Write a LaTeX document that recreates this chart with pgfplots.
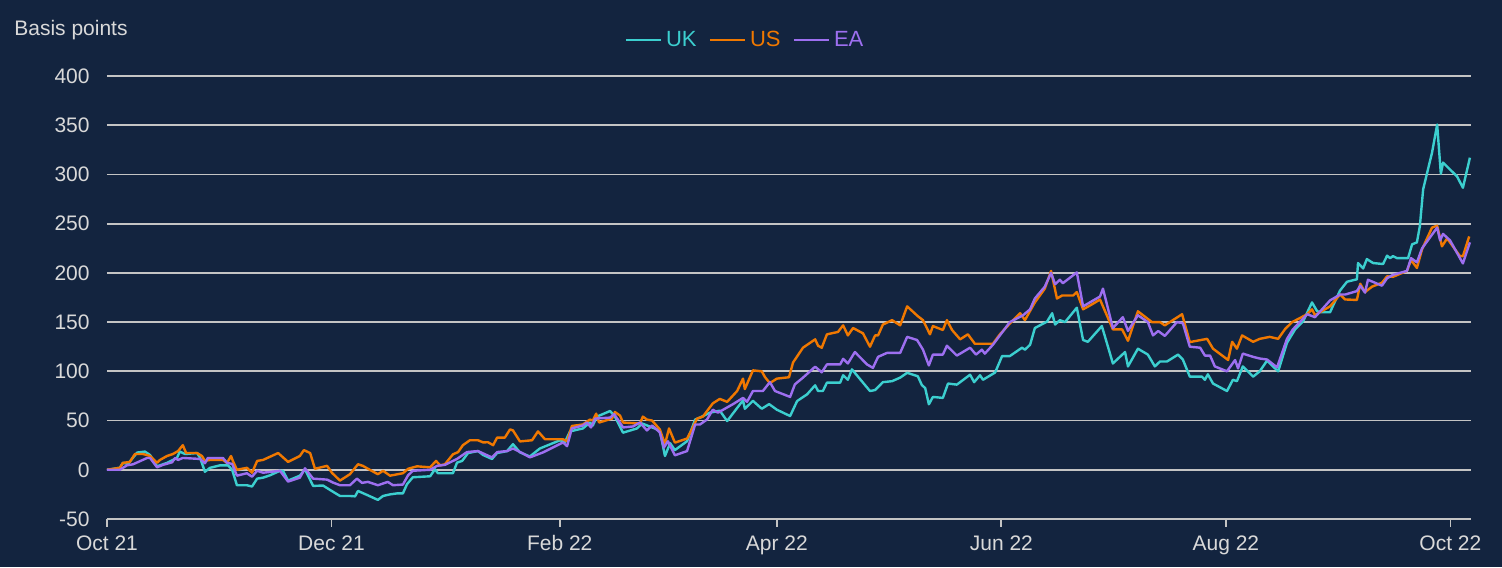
\documentclass[border=0pt]{standalone}
\usepackage{fontspec}
\setmainfont{Liberation Sans}
\usepackage{pgfplots}
\usepackage{pgfplotstable}
\pgfplotsset{compat=1.18}
\usetikzlibrary{backgrounds}
\definecolor{bg}{HTML}{13243F}
\definecolor{gridc}{HTML}{C4C4C4}
\definecolor{txt}{HTML}{D9D9D9}
\definecolor{ukc}{HTML}{3CCFCF}
\definecolor{usc}{HTML}{F07800}
\definecolor{eac}{HTML}{9D6FF0}

% x = days since 1 Oct 2021, y = basis points
\pgfplotstableread{
d v
0 0
3.5 2
4.3 7
5.7 6
8.2 17.5
10.3 18.5
11.7 15
13.6 3.5
16.3 7
19.0 12
19.8 18.5
21.2 16
24.5 17
25.3 12
26.6 -2
28 2
30.7 4.5
32.9 4.5
34.0 0
35.3 -15.7
38 -15.7
39.4 -17
40.8 -9
42.4 -8
44.3 -5.6
47.0 -1
47.8 -1
49.2 -11
52.4 -6
53.8 0.5
56.0 -16.4
58.7 -16
60.6 -20.5
63.3 -26.6
66 -26.6
67.4 -27
68.2 -21.5
70.6 -25.5
73.6 -30.6
75 -26.6
76.9 -25
78.8 -24
80.4 -24
81.5 -14.7
83.1 -7.6
87.8 -6.6
89.1 0.5
89.9 -3.5
94 -3.5
95.1 7.3
96.5 9
98.1 17
100.8 19
102.2 15
104.6 11
106 17
108.7 19
110.3 26
112.2 17.7
114.9 13.5
117.6 21.6
123.1 30
124.4 28
125.8 39
129.3 42
131.2 48
132 45
133.1 54
136.7 59.7
138 54
140.2 37.7
144.0 42
145.4 47
148.1 43
150.2 40
151.6 14
153.0 27
154.3 20
157.6 29
159.8 51
161.1 53
163.8 58
166.5 60
168.5 49.5
172.8 70.6
173.3 62
175.5 70
177.9 62
179.9 66.7
182 61
185.6 54.6
187.5 69.8
190.2 76.6
192.4 85.8
193.2 80
194.5 80
195.6 88.5
199.2 88.5
200 96
201.3 91.4
202.4 102
207.3 80
208.7 81
210.8 89
213.3 90
215.5 93.6
217.4 98.5
220.3 95
221.4 86
222.3 83
223.3 66.5
224.4 74
227.1 73
228.5 87.6
230.9 86.5
234.5 96.6
235.6 89
237.2 96
238.0 91.4
241.3 98.8
243.2 115.5
245.3 115.5
248.6 124
249.4 122
250.8 127
252.1 144
255.4 150.5
256.8 159
257.6 147.5
258.9 152
260.3 150
263.5 164.6
265.2 131.8
266.5 130
270.3 146
273.3 108
276.6 119.6
277.4 105
280.1 123
282.8 117
284.7 105
286.1 110
288.0 110
291.0 117
292.3 112
294.2 94.6
297.5 94.6
298.3 91.4
299.1 97
300.5 87.6
304.3 80
305.9 91.4
307 90
308.6 105
311.4 94.6
313.2 100
315.2 111
316.8 105
318.2 100
320.6 129
322.8 142.6
325.0 151
327.4 170
328.8 161
330.1 160
332.3 160
335 182
336.9 191
339.6 193.5
339.9 210
341.3 204.5
342.3 214
344.0 210
346.7 209
347.8 217.5
348.6 215
349.4 217
350.5 215
353.5 215
354.6 229
355.9 231
356.7 247.5
357.6 285
360 322
361.4 350.7
362.4 300.7
363.0 312
366.8 298
368.4 286.5
370.3 317
}\uk

\pgfplotstableread{
d v
0 0
3.5 2
4.3 7
6.2 8
7.6 16
9.8 16
11.7 14
13.6 7
14.4 10
16.3 14
17.9 16
19.3 19
20.6 25
21.5 17
24.5 17
25.8 14
26.6 9
28 10
31.5 10
32.6 7
33.7 14
34.2 9
35.3 0
38 2
39.4 -3
40.8 9
42.4 10
46.5 17
49.2 8
52.4 14
53.5 20
55.2 17
56.5 1
59.8 4
61.1 -3
63.3 -11
66 -4.5
68.2 5.6
69.5 4
71.4 0
73.6 -4.5
75 -1
76.9 -6
80.4 -3.5
81.8 1
84.2 3.5
87.8 2.5
89.4 9
90.5 4.5
91.8 5.6
94 15.7
95.4 18
96.7 25
98.6 30
100.8 30
102.2 27.8
103.5 28
104.9 25
106 32.7
108.1 32.7
109.5 41
110.3 40
112.2 28.8
115.5 30
117.1 39
119 31
123.9 31
125 29
126.3 44.5
129.3 46
131.2 51
132 50
132.9 57
133.7 48
137.2 52
138 58.7
139.4 55
140.2 48
144.8 47
145.6 54
146.7 51
148.1 50
150.2 41
151.6 26
152.7 42
154.3 27.6
157.6 31.7
158.9 41
160.3 52
161.9 54
164.6 67.5
166.5 72
168.5 69
171.2 80
172.8 92.6
173.3 82
175.5 101
177.9 100
178.8 94
180.1 88
182 92.6
185.3 94
186.4 109
189.1 124
192.4 132.5
193.2 126
194.2 124
195.6 137.6
198.6 140
200 146.7
201.3 136.5
202.7 144
205.4 138.6
207.3 125
208.7 136.5
209.5 136.5
210.8 147.5
213.3 152
215.5 146.7
217.4 166
220.3 156
221.7 152
223.6 137.6
224.4 146
227.1 142
228.2 152
229.6 142
231.8 132.5
233.9 137.6
235.8 128
240.7 128
242.6 137.6
245.3 148.5
248.1 159
249.4 152
252.1 170
254.8 184
256.5 202
258.1 174
259.5 177
262.5 177
263.5 180.5
265.2 163
267.6 168
269.8 173
273.3 142.6
275.8 142.6
277.4 131
280.1 161
283.9 150
286.1 150
287.4 146.7
289.6 152
292.1 158
294.2 129.7
298.9 133
300.5 123
304.6 111.5
305.7 130
307 123
308.4 136.5
311.4 130
313.2 133
315.9 135
318.2 133
320.1 143
322 150
326.1 158
327.4 163
328.2 157
332.3 166
335 178
336.4 173
339.6 172.5
340.5 189
341.8 180.5
343.7 186
346.4 190
347.8 196.5
349.4 196
353.2 202
354.3 213
355.9 205
357.3 224
360 246
361.4 248
362.7 227
364.1 235
367.6 217
368.4 217
370.1 237
}\us

\pgfplotstableread{
d v
0 0
3.5 0
5.4 4.5
7.1 5.6
10.9 12
11.7 12
13.6 2.5
15.2 5
17.7 7.6
18.5 12
19.3 10
20.6 12
25.3 11
26.6 6.6
27.4 12
31.5 12
32.6 7
34.0 6
35.3 -6
38 -3.5
39.4 -7
40.8 -1
42.4 -3
47.0 -1
49.2 -12
52.4 -8
53.8 1.5
56.0 -9
59.8 -10
61.4 -13
63.3 -15.7
66 -15.7
67.9 -9
69.3 -13.3
70.9 -12.3
73.6 -15.7
76.3 -12.3
77.7 -15.7
80.4 -15
81.8 -5.6
83.1 -1
87.8 0
89.7 4
91.8 5
95.1 11
97.8 18
100.8 19
104.6 12.5
106 18
108.7 19
110.3 21.6
112.8 17
114.9 12.6
118.5 17.7
123.9 27.8
125 24
126.3 42
129.3 45
130.4 48
131.5 43
132.6 52
136.7 53
137.8 56.5
138.8 51
140.2 43
142.9 44
144.8 48
146.7 40
148.1 45
150.2 38
151.3 22.5
152.4 29
154.3 14.7
157.6 19
159.8 46
161.1 46
163.0 51
164.6 61
166.0 58
167.4 61
170.1 66.7
172.8 73
173.9 69
175.5 80
178.2 80
180.1 89
181.5 80
185.6 74
186.9 86.8
189.1 93.6
192.4 104.7
194.2 99
195.6 107
199.2 107
200 112.7
201.3 108
203.2 119.6
206.5 107
208.1 103.5
209.5 114.7
211.9 118.7
215.5 118.7
217.4 135
220.1 131.8
221.7 122
223.3 106
224.4 117
227.1 117
228.2 126
230.9 116
234.5 124
236.1 117
237.7 122
238.5 118
240.7 127
245.3 150
248.9 157
250.8 163
252.1 174
254.8 186
256.5 200
257.6 188.5
258.9 193
259.7 189.5
263.5 200.5
265.2 166
269.8 176
270.6 184
273.3 144
276.0 155
277.4 141
280.1 157
282.8 150
284.2 136.5
285.6 141
287.4 136
290.7 150
292.3 149
294.2 125
297.0 124
298.3 116
299.7 116
301.0 105
304.3 100
306.5 111.5
307.3 103
308.6 118
311.4 114.7
313.2 113
315.2 112
317.9 104
320.6 133
322.2 142.6
326.1 158
328.2 155
332.3 172
335 178
336.4 178
339.6 181.5
340.5 187
341.8 180
342.6 193
346.4 187
347.8 194.6
349.4 198
353.2 202
354.3 215
355.9 210.7
357.3 225
361.4 246
362.2 233
363.0 239.6
364.9 233
368.4 209.6
370.3 231
}\ea

\begin{document}
\begin{tikzpicture}
\begin{axis}[
  scale only axis, width=682pt, height=221.5pt,
  xmin=0, xmax=370.6, ymin=-50, ymax=400,
  clip=false,
  xtick={0,61,123,182,243,304,365},
  xticklabels={Oct 21,Dec 21,Feb 22,Apr 22,Jun 22,Aug 22,Oct 22},
  ytick={-50,0,50,100,150,200,250,300,350,400},
  axis x line*=bottom, axis y line*=left,
  y axis line style={draw=none},
  x axis line style={draw=gridc, line width=0.9pt},
  ymajorgrids, grid style={gridc, line width=0.9pt},
  ytick style={draw=none},
  xtick style={draw=gridc, line width=0.9pt},
  tick align=outside, major tick length=4pt,
  /pgf/number format/assume math mode=true,
  tick label style={font=\fontsize{10.5}{12.6}\selectfont, text=txt},
  yticklabel style={anchor=east, inner sep=0pt, xshift=-4.5pt},
  xticklabel style={anchor=north, inner sep=0pt, yshift=-4pt},
  legend columns=3,
  legend style={at={(0.4685,1.0813)}, anchor=center, draw=none, fill=none,
    font=\fontsize{11}{13.2}\selectfont, inner sep=0pt,
    /tikz/every even column/.append style={column sep=4pt}},
  legend cell align=left,
  legend image code/.code={\draw[#1] (0pt,0pt) -- (17.5pt,0pt);},
  every axis plot/.append style={line width=1.2pt, line join=round},
]
\addplot[ukc] table[x=d, y=v] {\uk};
\addlegendentry{\textcolor{ukc}{UK}}
\addplot[usc] table[x=d, y=v] {\us};
\addlegendentry{\textcolor{usc}{US}}
\addplot[eac] table[x=d, y=v] {\ea};
\addlegendentry{\textcolor{eac}{EA}}
\coordinate (O) at (rel axis cs:0,0);
\node[anchor=west, inner sep=0pt, text=txt, font=\fontsize{10.5}{12.6}\selectfont]
  at ([xshift=-46.5pt, yshift=23pt]rel axis cs:0,1) {Basis points};
\end{axis}
\begin{scope}[on background layer]
\fill[bg, shift={(O)}] (-53.5pt,-24pt) rectangle (697.5pt,259.5pt);
\end{scope}
\end{tikzpicture}
\end{document}
